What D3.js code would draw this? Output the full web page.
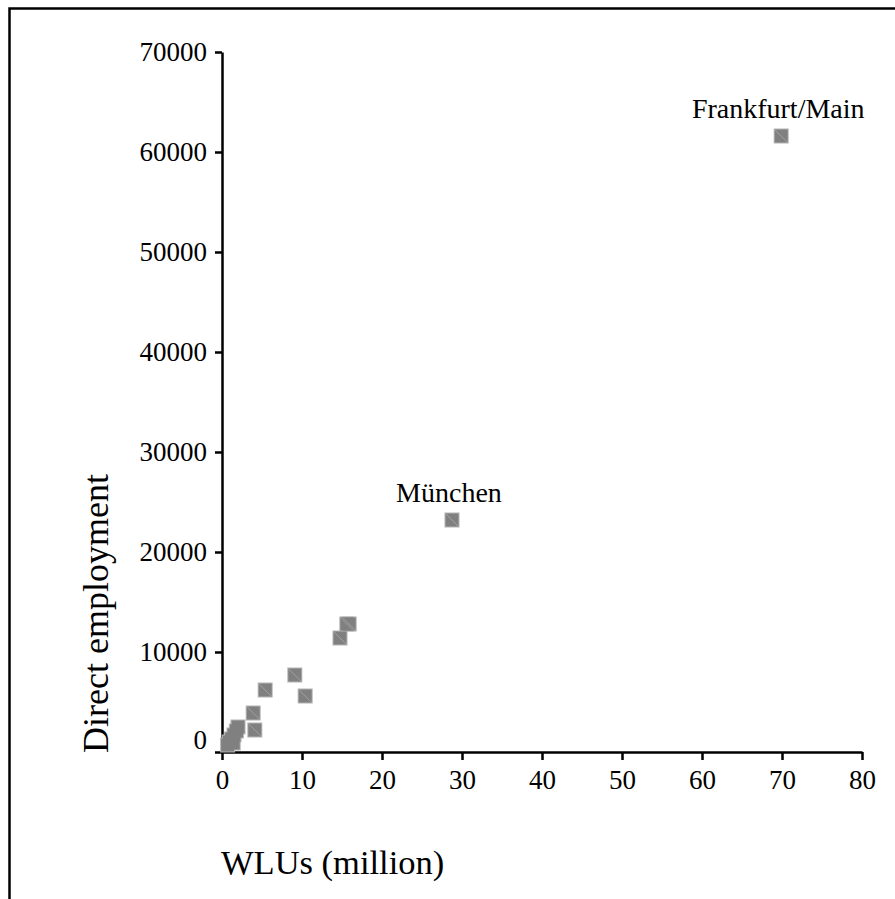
<!DOCTYPE html>
<html><head><meta charset="utf-8">
<script src="https://cdn.jsdelivr.net/npm/d3@7"></script>
<style>body{margin:0;background:#fff;overflow:hidden} svg text{font-family:'Liberation Serif','Times New Roman',serif !important}</style></head>
<body>
<script>
// Data
const airports   = ["", "", "", "", "", "", "", "", "", "", "", "", "", "", "", "München", "Frankfurt/Main"];
const wlus       = [0.7, 0.9, 1.2, 1.4, 1.5, 1.8, 2.0, 4.1, 3.9, 5.4, 10.4, 9.1, 14.75, 15.6, 15.9, 28.75, 69.9];
const employment = [700, 1000, 1300, 900, 1700, 2100, 2500, 2200, 3900, 6200, 5600, 7700, 11400, 12800, 12800, 23200, 61600];
const xTickValues = [0, 10, 20, 30, 40, 50, 60, 70, 80];
const yTickValues = [0, 10000, 20000, 30000, 40000, 50000, 60000, 70000];

const W = 895, H = 899;
const svg = d3.select("body").append("svg").attr("width", W).attr("height", H)
  .style("font-family", "'Liberation Serif','Times New Roman',serif");

// frame (open at right / bottom as in reference)
svg.append("path").attr("d", `M9.5,${H + 5}V8.5H${W + 5}`)
  .attr("fill", "none").attr("stroke", "#000").attr("stroke-width", 2.5);

const x = d3.scaleLinear().domain([0, 80]).range([222, 862]);
const y = d3.scaleLinear().domain([0, 70000]).range([752, 52]);

const xAxis = d3.axisBottom(x).tickValues(xTickValues).tickSize(8).tickSizeOuter(0).tickPadding(10);
const yAxis = d3.axisLeft(y).tickValues(yTickValues).tickSize(7).tickSizeOuter(0).tickPadding(8).tickFormat(d3.format("d"));

const gx = svg.append("g").attr("transform", `translate(0,${y(0)})`).call(xAxis);
const gy = svg.append("g").attr("transform", `translate(${x(0)},0)`).call(yAxis);

[gx, gy].forEach(g => {
  g.attr("font-family", null).attr("font-size", null);
  g.select(".domain").attr("stroke", "#000").attr("stroke-width", 2.5);
  g.selectAll(".tick line").attr("stroke", "#000").attr("stroke-width", 2.5);
  g.selectAll(".tick text").attr("fill", "#000").attr("font-size", 27);
});
gy.selectAll(".tick text").filter(d => d === 0).attr("dy", "-0.12em");

// axis titles
svg.append("text").attr("x", 221).attr("y", 874).attr("font-size", 34.5).attr("fill", "#000")
  .text("WLUs (million)");
svg.append("text").attr("transform", `translate(108,753) rotate(-90)`).attr("font-size", 36).attr("fill", "#000")
  .text("Direct employment");

// markers: outline pass, then fill pass, then diagonal
const s = 14;
const data = wlus.map((v, i) => ({x: v, y: employment[i], name: airports[i]}));
const mk = svg.append("g");
mk.selectAll("rect.o").data(data).join("rect").attr("class", "o")
  .attr("x", d => x(d.x) - s / 2 - 0.5).attr("y", d => y(d.y) - s / 2 - 0.5)
  .attr("width", s + 1).attr("height", s + 1).attr("fill", "#b4b4b4");
mk.selectAll("rect.f").data(data).join("rect").attr("class", "f")
  .attr("x", d => x(d.x) - s / 2 + 0.5).attr("y", d => y(d.y) - s / 2 + 0.5)
  .attr("width", s - 1).attr("height", s - 1).attr("fill", "#808080");
mk.selectAll("line").data(data.filter(d => d.x > 3)).join("line")
  .attr("x1", d => x(d.x) - s / 2 + 1).attr("y1", d => y(d.y) - s / 2 + 1)
  .attr("x2", d => x(d.x) + s / 2 - 1).attr("y2", d => y(d.y) + s / 2 - 1)
  .attr("stroke", "#a8a8a8").attr("stroke-width", 0.8);

// labels
svg.append("g").selectAll("text").data(data.filter(d => d.name))
  .join("text").attr("x", d => x(d.x) - 3).attr("y", d => y(d.y) - 18)
  .attr("text-anchor", "middle").attr("font-size", 28).attr("fill", "#000").text(d => d.name);
</script>
</body></html>
